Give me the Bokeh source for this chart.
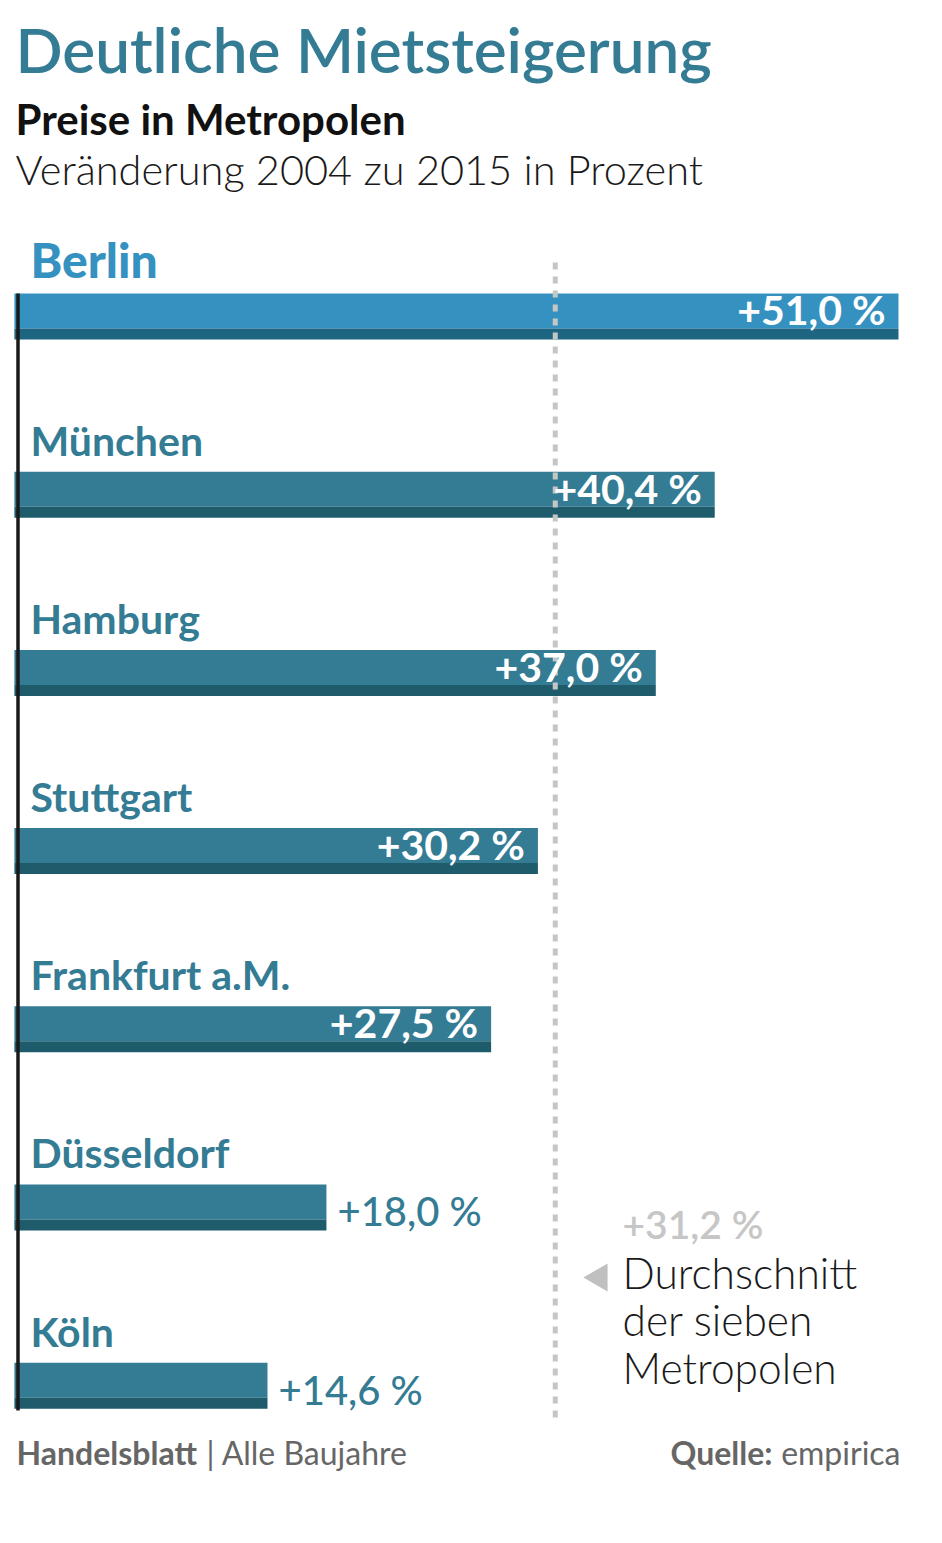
import math
from bokeh.plotting import figure
from bokeh.models import Range1d, ColumnDataSource
from bokeh.core.properties import value
from bokeh.embed import file_html
from bokeh.resources import INLINE

# ---------------- data ----------------
cities = ["Berlin", "München", "Hamburg", "Stuttgart", "Frankfurt a.M.", "Düsseldorf", "Köln"]
changes = [51.0, 40.4, 37.0, 30.2, 27.5, 18.0, 14.6]
average = 31.2
title = "Deutliche Mietsteigerung"
subtitle = "Preise in Metropolen"
subtitle2 = "Veränderung 2004 zu 2015 in Prozent"
avg_lines = ["Durchschnitt", "der sieben", "Metropolen"]


def fmt(v):
    return "+" + f"{v:.1f}".replace(".", ",") + " %"


# ---------------- layout ----------------
W, H = 926, 1520
PX0, SCALE = 13.9, 17.335          # picture x of 0 %, pixels per percent
TOP0, STEP = 293.0, 178.2          # first bar top, bar spacing
LIGHT_H, DARK_H = 35.0, 11.0

BLUE, BLUE_D = "#3592c0", "#1d6580"
TEAL, TEAL_D = "#347b94", "#1e5b6b"
GREY = "#c6c6c6"


def base(y, size):
    # place text so that its alphabetic baseline lands at y
    return y - 0.43 * size


p = figure(width=W, height=H,
           x_range=Range1d((0 - PX0) / SCALE, (W - PX0) / SCALE),
           y_range=Range1d(H, 0),
           output_backend="svg", toolbar_location=None,
           x_axis_location=None, y_axis_location=None,
           min_border=0, outline_line_color=None,
           background_fill_color="white", border_fill_color="white")
p.grid.visible = False
p.extra_x_ranges = {"px": Range1d(0, W)}

tops = [TOP0 + STEP * i for i in range(len(cities))]
is_first = [i == 0 for i in range(len(cities))]
src = ColumnDataSource(dict(
    city=cities, val=changes,
    top=tops,
    mid=[t + LIGHT_H for t in tops],
    bot=[t + LIGHT_H + DARK_H for t in tops],
    light=[BLUE if f else TEAL for f in is_first],
    dark=[BLUE_D if f else TEAL_D for f in is_first],
))

# bars (light upper part + darker base strip)
p.quad(left=0, right="val", top="top", bottom="mid", source=src,
       fill_color="light", line_color=None)
p.quad(left=0, right="val", top="mid", bottom="bot", source=src,
       fill_color="dark", line_color=None)

# zero line
p.segment(x0=[17.5], x1=[17.5], y0=[293], y1=[1410], x_range_name="px",
          line_color="#1a1a1a", line_width=3.5)

# average line
p.segment(x0=[average], x1=[average], y0=[262], y1=[1418],
          line_color=GREY, line_width=5, line_dash="7 7")

# city names
p.text(x=[30], y=[base(tops[0] - 13, 48)], text=[cities[0]], x_range_name="px",
       text_font=value("Lato Black"), text_font_size="48px",
       text_color=BLUE, text_baseline="alphabetic")
p.text(x=[30] * (len(cities) - 1), y=[base(t - 14, 41) for t in tops[1:]], text=cities[1:],
       x_range_name="px", text_font=value("Lato"), text_font_style="bold",
       text_font_size="41px", text_color=TEAL, text_baseline="alphabetic")

# value labels
inside = [i for i, v in enumerate(changes) if v > 20]
outside = [i for i, v in enumerate(changes) if v <= 20]
p.text(x=[changes[i] for i in inside], y=[base(tops[i] + 34, 41) for i in inside],
       text=[fmt(changes[i]) for i in inside], x_offset=-13,
       text_font=value("Lato"), text_font_style="bold", text_font_size="41px",
       text_color="white", text_align="right", text_baseline="alphabetic")
p.text(x=[changes[i] for i in outside], y=[base(tops[i] + 44, 40) for i in outside],
       text=[fmt(changes[i]) for i in outside], x_offset=11,
       text_font=value("Lato Medium"), text_font_size="40px",
       text_color=TEAL, text_align="left", text_baseline="alphabetic")

# average annotation
p.text(x=[622], y=[base(1240, 39)], text=[fmt(average)], x_range_name="px",
       text_font=value("Lato Semibold"), text_font_size="39px", text_color=GREY,
       text_baseline="alphabetic")
p.scatter(x=[599], y=[1277], x_range_name="px", marker="triangle", size=28,
          angle=math.pi / 2, fill_color="#c0c0c0", line_color=None)
p.text(x=[622] * 3, y=[base(b, 42.5) for b in (1290, 1337, 1385)], text=avg_lines,
       x_range_name="px", text_font=value("Lato Light"), text_font_size="42.5px",
       text_color="#1a1a1a", text_baseline="alphabetic")

# titles
p.text(x=[15], y=[base(75, 62)], text=[title], x_range_name="px",
       text_font=value("Lato Semibold"), text_font_size="62px", text_color=TEAL,
       text_baseline="alphabetic")
p.text(x=[15], y=[base(137, 42)], text=[subtitle], x_range_name="px",
       text_font=value("Lato"), text_font_style="bold", text_font_size="42px",
       text_color="#111111", text_baseline="alphabetic")
p.text(x=[15], y=[base(186, 41.5)], text=[subtitle2], x_range_name="px",
       text_font=value("Lato Light"), text_font_size="41.5px", text_color="#1a1a1a",
       text_baseline="alphabetic")

# footer
FOOT = base(1466, 32)
p.text(x=[16], y=[FOOT], text=["Handelsblatt"], x_range_name="px",
       text_font=value("Lato"), text_font_style="bold", text_font_size="32px",
       text_color="#666666", text_baseline="alphabetic")
p.text(x=[206], y=[FOOT], text=["| Alle Baujahre"], x_range_name="px",
       text_font=value("Lato"), text_font_size="32px",
       text_color="#666666", text_baseline="alphabetic")
p.text(x=[900], y=[FOOT], text=["empirica"], x_range_name="px",
       text_font=value("Lato"), text_font_size="32px", text_align="right",
       text_color="#666666", text_baseline="alphabetic")
p.text(x=[772], y=[FOOT], text=["Quelle:"], x_range_name="px",
       text_font=value("Lato"), text_font_style="bold", text_font_size="32px",
       text_align="right", text_color="#666666", text_baseline="alphabetic")

open("out.html", "w").write(file_html(p, INLINE))
